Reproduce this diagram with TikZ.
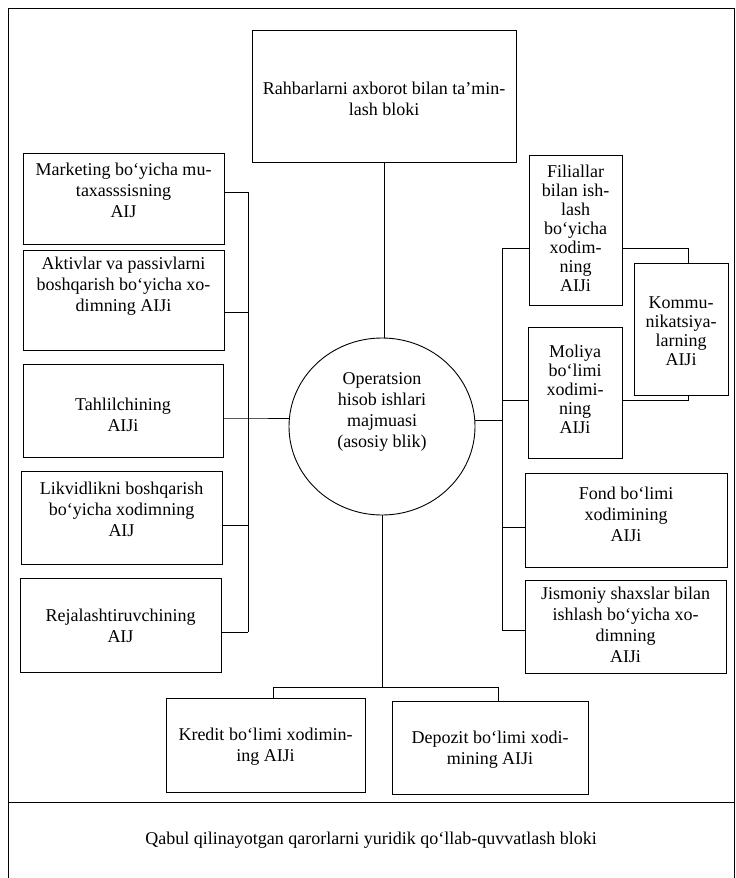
\documentclass[tikz,border=0pt]{standalone}
\usepackage{fontspec}
\setmainfont{Liberation Serif}
\usetikzlibrary{shapes.geometric}
\begin{document}
\begin{tikzpicture}[x=1pt,y=-1pt,
  txt/.style={font=\fontsize{18}{21}\selectfont, align=center, inner sep=0pt},
  tight/.style={txt, font=\fontsize{18}{19}\selectfont},
  box/.style={draw, line width=0.9pt, inner sep=0pt},
  ln/.style={line width=0.9pt}]
\useasboundingbox (0,0) rectangle (736,878);
% outer frame and divider
\coordinate (f1) at (8,878);
\coordinate (f2) at (8,8);
\coordinate (f3) at (734,8);
\coordinate (f4) at (734,878);
\coordinate (d1) at (8,802);
\coordinate (d2) at (734,802);
\draw[ln] (f1) -- (f2) -- (f3) -- (f4);
\draw[ln] (d1) -- (d2);
% boxes
\node[box, minimum width=264pt, minimum height=132pt] (top) at (384,96) {};
\node[draw, line width=0.9pt, ellipse, minimum width=186pt, minimum height=177pt, inner sep=0pt] (circ) at (382,426.5) {};
\node[box, minimum width=201pt, minimum height=91pt] (mkt) at (123.5,198.5) {};
\node[box, minimum width=201pt, minimum height=100pt] (akt) at (123.5,300) {};
\node[box, minimum width=200pt, minimum height=93pt] (tah) at (123,410.5) {};
\node[box, minimum width=201pt, minimum height=93pt] (lik) at (121.5,517.5) {};
\node[box, minimum width=201pt, minimum height=94pt] (rej) at (120.5,625) {};
\node[box, minimum width=93pt, minimum height=150pt] (fil) at (575.5,230) {};
\node[box, minimum width=94pt, minimum height=132pt] (kom) at (681,329) {};
\node[box, minimum width=94pt, minimum height=131pt] (mol) at (575,392.5) {};
\node[box, minimum width=202pt, minimum height=94pt] (fond) at (626,520) {};
\node[box, minimum width=201pt, minimum height=93pt] (jis) at (625.5,626.5) {};
\node[box, minimum width=199pt, minimum height=94pt] (kre) at (265.5,745) {};
\node[box, minimum width=196pt, minimum height=93pt] (dep) at (490,747.5) {};
% texts
\node[txt] (topT) at ([yshift=-3pt]top.center) {Rahbarlarni axborot bilan ta’min-\\lash bloki};
\node[txt] (circT) at ([yshift=15pt]circ.center) {Operatsion\\hisob ishlari\\majmuasi\\(asosiy blik)};
\node[txt] (mktT) at ([yshift=8pt]mkt.center) {Marketing bo‘yicha mu-\\taxasssisning\\AIJ};
\node[txt] (aktT) at ([yshift=14pt]akt.center) {Aktivlar va passivlarni\\boshqarish bo‘yicha xo-\\dimning AIJi};
\node[txt] (tahT) at ([yshift=-4pt]tah.center) {Tahlilchining\\AIJi};
\node[txt] (likT) at ([yshift=8pt]lik.center) {Likvidlikni boshqarish\\bo‘yicha xodimning\\AIJ};
\node[txt] (rejT) at ([yshift=-1pt]rej.center) {Rejalashtiruvchining\\AIJ};
\node[tight] (filT) at ([yshift=2pt]fil.center) {Filiallar\\bilan ish-\\lash\\bo‘yicha\\xodim-\\ning\\AIJi};
\node[tight] (komT) at ([yshift=-2pt]kom.center) {Kommu-\\nikatsiya-\\larning\\AIJi};
\node[tight] (molT) at ([yshift=3pt]mol.center) {Moliya\\bo‘limi\\xodimi-\\ning\\AIJi};
\node[txt] (fondT) at ([yshift=6pt]fond.center) {Fond bo‘limi\\xodimining\\AIJi};
\node[txt] (jisT) at ([yshift=2pt]jis.center) {Jismoniy shaxslar bilan\\ishlash bo‘yicha xo-\\dimning\\AIJi};
\node[txt] (kreT) at ([yshift=-2pt]kre.center) {Kredit bo‘limi xodimin-\\ing AIJi};
\node[txt] (depT) at ([yshift=-2pt]dep.center) {Depozit bo‘limi xodi-\\mining AIJi};
\node[txt] (qabul) at (371,840) {Qabul qilinayotgan qarorlarni yuridik qo‘llab-quvvatlash bloki};
% top connector
\draw[ln] (top.south) -- (top.south |- circ.north);
% left bus
\coordinate (l1) at (248,192);
\coordinate (l2) at (248,312);
\coordinate (l3) at (248,418);
\coordinate (l4) at (248,525);
\coordinate (l5) at (248,632);
\draw[ln] (l1) -- (l5);
\draw[ln] (mkt.east |- l1) -- (l1);
\draw[ln] (akt.east |- l2) -- (l2);
\draw[ln] (tah.east |- l3) -- (l3) -- (l3 -| circ.west);
\draw[ln] (lik.east |- l4) -- (l4);
\draw[ln] (rej.east |- l5) -- (l5);
% right bus
\coordinate (r1) at (502,248);
\coordinate (r2) at (502,400);
\coordinate (rc) at (502,420);
\coordinate (r3) at (502,527);
\coordinate (r4) at (502,630);
\coordinate (k1) at (688,248);
\coordinate (k2) at (688,400);
\draw[ln] (r1) -- (r4);
\draw[ln] (rc -| circ.east) -- (rc);
\draw[ln] (r1) -- (fil.west |- r1);
\draw[ln] (r2) -- (mol.west |- r2);
\draw[ln] (r3) -- (fond.west |- r3);
\draw[ln] (r4) -- (jis.west |- r4);
\draw[ln] (fil.east |- k1) -- (k1) -- (k1 |- kom.north);
\draw[ln] (mol.east |- k2) -- (k2) -- (k2 |- kom.south);
% bottom connectors
\coordinate (bl) at (273,687);
\coordinate (br) at (498,687);
\draw[ln] (circ.south) -- (circ.south |- bl);
\draw[ln] (kre.north -| bl) -- (bl) -- (br) -- (dep.north -| br);
\end{tikzpicture}
\end{document}
